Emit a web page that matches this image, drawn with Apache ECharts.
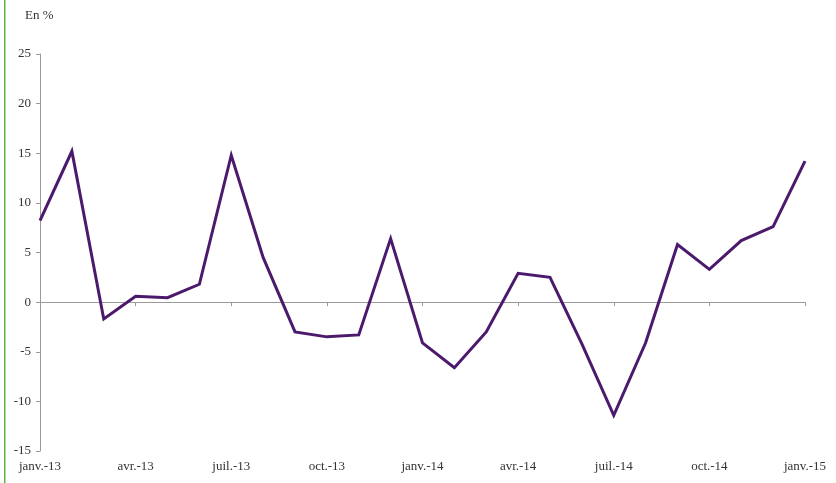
<!DOCTYPE html>
<html>
<head>
<meta charset="utf-8">
<script src="https://cdn.jsdelivr.net/npm/echarts@6/dist/echarts.min.js"></script>
<style>
  html, body { margin: 0; padding: 0; background: #fff; }
  #chart { width: 836px; height: 483px; }
</style>
</head>
<body>
<div id="chart"></div>
<script>
// Monthly series, January 2013 to January 2015 (in %)
const months = [
  'janv.-13', 'févr.-13', 'mars-13', 'avr.-13', 'mai-13', 'juin-13',
  'juil.-13', 'août-13', 'sept.-13', 'oct.-13', 'nov.-13', 'déc.-13',
  'janv.-14', 'févr.-14', 'mars-14', 'avr.-14', 'mai-14', 'juin-14',
  'juil.-14', 'août-14', 'sept.-14', 'oct.-14', 'nov.-14', 'déc.-14',
  'janv.-15'
];
const values = [
  8.2, 15.2, -1.7, 0.6, 0.45, 1.8,
  14.8, 4.5, -3.0, -3.5, -3.3, 6.4,
  -4.1, -6.6, -3.0, 2.9, 2.5, -4.2,
  -11.4, -4.1, 5.8, 3.3, 6.2, 7.6,
  14.2
];
const yTicks = { min: -15, max: 25, step: 5 };
const unitLabel = 'En %';

const font = '"Liberation Serif", "DejaVu Serif", serif';
const axisGrey = '#9a9a9a';
const textColor = '#333';

const chart = echarts.init(document.getElementById('chart'), null, { renderer: 'canvas' });

chart.setOption({
  animation: false,
  backgroundColor: '#fff',
  grid: { left: 40, right: 31, top: 54, bottom: 32, containLabel: false },
  graphic: [
    {
      type: 'rect',
      shape: { x: 4, y: 0, width: 1.5, height: 483 },
      style: { fill: '#5cb548' },
      silent: true
    },
    {
      type: 'text',
      left: 25, top: 9,
      style: { text: unitLabel, font: '13px ' + font, fill: textColor }
    }
  ],
  xAxis: [
    {
      type: 'category',
      data: months,
      boundaryGap: false,
      position: 'bottom',
      axisLine: { show: false, onZero: false },
      axisTick: { show: false },
      axisLabel: {
        interval: 2,
        color: textColor,
        fontFamily: font,
        fontSize: 13,
        margin: 9
      },
      splitLine: { show: false }
    },
    {
      type: 'category',
      data: months,
      boundaryGap: false,
      position: 'bottom',
      axisLine: { show: true, onZero: true, lineStyle: { color: axisGrey, width: 1 } },
      axisTick: { show: true, interval: 2, length: 4, inside: false, lineStyle: { color: axisGrey } },
      axisLabel: { show: false },
      splitLine: { show: false }
    }
  ],
  yAxis: {
    type: 'value',
    min: yTicks.min,
    max: yTicks.max,
    interval: yTicks.step,
    axisLine: { show: true, lineStyle: { color: axisGrey, width: 1 } },
    axisTick: { show: true, length: 4, lineStyle: { color: axisGrey } },
    axisLabel: {
      color: textColor,
      fontFamily: font,
      fontSize: 13,
      margin: 9
    },
    splitLine: { show: false }
  },
  series: [
    {
      type: 'line',
      xAxisIndex: 0,
      data: values,
      symbol: 'none',
      lineStyle: { color: '#4b1a6c', width: 3, join: 'miter' },
      z: 5
    }
  ]
});
</script>
</body>
</html>
